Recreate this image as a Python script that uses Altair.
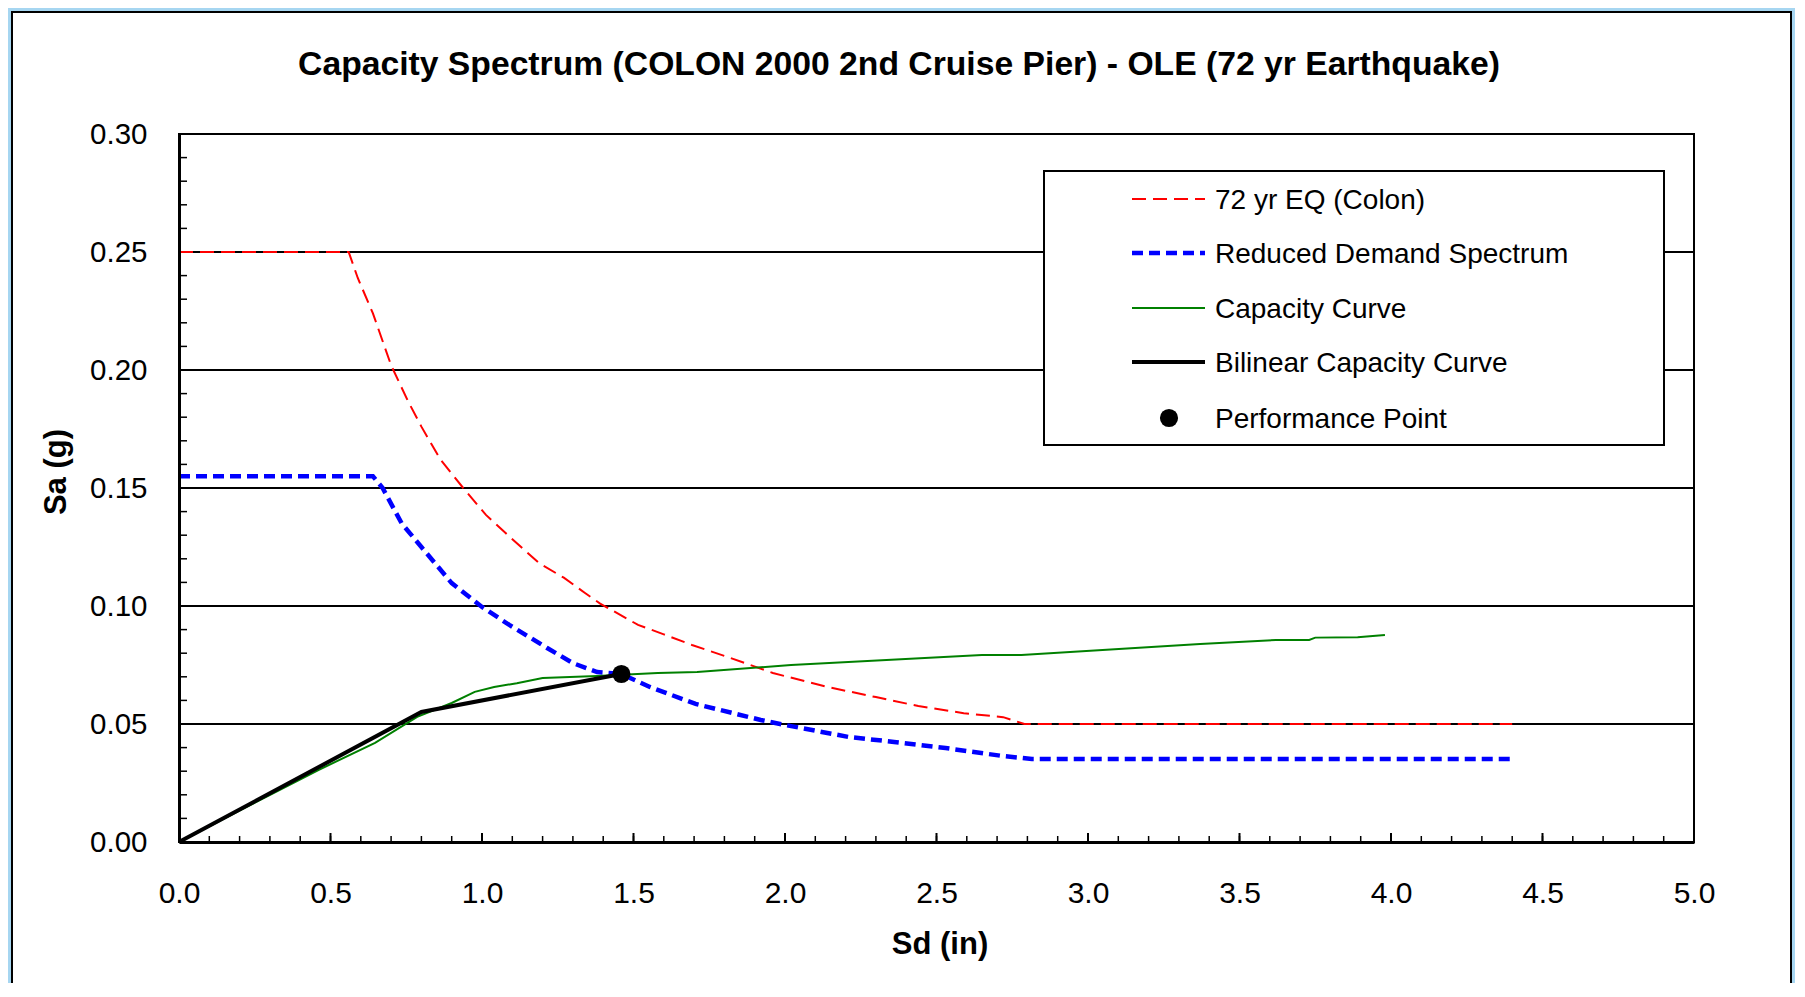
import altair as alt
import pandas as pd

# ---------------- data ----------------
eq_sd = [0.0, 0.56, 0.59, 0.64, 0.70, 0.755, 0.80, 0.863, 0.938, 1.013, 1.077, 1.14, 1.19,
         1.27, 1.34, 1.39, 1.515, 1.60, 1.693, 1.82, 1.96, 2.14, 2.30, 2.44, 2.59, 2.72, 2.79, 4.40]
eq_sa = [0.25, 0.25, 0.239, 0.224, 0.202, 0.187, 0.176, 0.162, 0.150, 0.1386, 0.131, 0.1237, 0.118,
         0.112, 0.1055, 0.101, 0.092, 0.088, 0.0835, 0.078, 0.0716, 0.0657, 0.0614, 0.0576, 0.0546,
         0.0529, 0.050, 0.050]

dem_sd = [0.0, 0.64, 0.672, 0.735, 0.80, 0.90, 1.0, 1.09, 1.215, 1.30, 1.38, 1.46, 1.554, 1.705,
          1.92, 2.0, 2.21, 2.36, 2.53, 2.72, 2.815, 4.41]
dem_sa = [0.155, 0.155, 0.150, 0.135, 0.125, 0.1097, 0.0996, 0.092, 0.0822, 0.0758, 0.072, 0.0712,
          0.0657, 0.0585, 0.0517, 0.0496, 0.0445, 0.0424, 0.0398, 0.0364, 0.0352, 0.0352]

cap_sd = [0.0, 0.19, 0.46, 0.647, 0.786, 0.90, 0.976, 1.04, 1.115, 1.20, 1.38, 1.58, 1.71, 2.02,
          2.65, 2.78, 3.37, 3.62, 3.73, 3.75, 3.89, 3.98]
cap_sa = [0.0, 0.0127, 0.0305, 0.042, 0.053, 0.0589, 0.0636, 0.0657, 0.0673, 0.0695, 0.0703,
          0.0716, 0.072, 0.075, 0.0792, 0.0792, 0.0839, 0.0856, 0.0856, 0.0866, 0.0868, 0.0877]

bil_sd = [0.0, 0.80, 1.46]
bil_sa = [0.0, 0.0551, 0.0712]

pp_sd = [1.46]
pp_sa = [0.0712]

x_ticks = [0.0, 0.5, 1.0, 1.5, 2.0, 2.5, 3.0, 3.5, 4.0, 4.5, 5.0]
y_ticks = [0.00, 0.05, 0.10, 0.15, 0.20, 0.25, 0.30]
x_minor = [round(i * 0.1, 1) for i in range(1, 50)]
y_minor = [round(i * 0.01, 2) for i in range(1, 30)]

legend_labels = ["72 yr EQ (Colon)", "Reduced Demand Spectrum", "Capacity Curve",
                 "Bilinear Capacity Curve", "Performance Point"]
title_text = "Capacity Spectrum (COLON 2000 2nd Cruise Pier) - OLE (72 yr Earthquake)"
x_title = "Sd (in)"
y_title = "Sa (g)"

# ---------------- layout ----------------
W, H = 1515, 708
FONT = "Liberation Sans"
PAD = {"left": 171, "top": 126, "right": 101, "bottom": 141}

xs = alt.Scale(domain=[0, 5], nice=False, zero=False)
ys = alt.Scale(domain=[0, 0.30], nice=False, zero=False)

x_axis = alt.Axis(values=x_ticks, format=".1f", title=None, grid=False, ticks=False, tickSize=0,
                  labelFont=FONT, labelFontSize=30, labelColor="black", labelPadding=36,
                  domainColor="black", domainWidth=3, zindex=1, labelFlush=False)
y_axis = alt.Axis(values=y_ticks, format=".2f", title=None, grid=False, ticks=False, tickSize=0,
                  labelFont=FONT, labelFontSize=29.5, labelColor="black", labelPadding=32,
                  domainColor="black", domainWidth=3, zindex=1, labelFlush=False)


def X(field):
    return alt.X(field, type="quantitative", scale=xs, axis=x_axis)


def Y(field):
    return alt.Y(field, type="quantitative", scale=ys, axis=y_axis)


one = pd.DataFrame({"k": [0]})

# white panel with black border (blue page frame around it)
panel = alt.Chart(one).mark_rect(fill="white", stroke="black", strokeWidth=2).encode(
    x=alt.value(-167), x2=alt.value(1612), y=alt.value(-122), y2=alt.value(900))

# horizontal gridlines
grid_df = pd.DataFrame({"sa": y_ticks[1:-1]})
grid = alt.Chart(grid_df).mark_rule(color="black", strokeWidth=2).encode(
    y=Y("sa"), x=alt.value(0), x2=alt.value(W))

# inward minor ticks
ymin_df = pd.DataFrame({"sa": y_minor})
ytick = alt.Chart(ymin_df).mark_rule(color="black", strokeWidth=1.5).encode(
    y=Y("sa"), x=alt.value(0), x2=alt.value(8))
xmin_df = pd.DataFrame({"sd": x_minor})
xtick = alt.Chart(xmin_df).mark_rule(color="black", strokeWidth=1.5).encode(
    x=X("sd"), y=alt.value(H), y2=alt.value(H - 6))
xmaj_df = pd.DataFrame({"sd": x_ticks[1:-1]})
xtick_major = alt.Chart(xmaj_df).mark_rule(color="black", strokeWidth=2).encode(
    x=X("sd"), y=alt.value(H), y2=alt.value(H - 9))

# plot frame
frame = alt.Chart(one).mark_rect(fill=None, stroke="black", strokeWidth=2).encode(
    x=alt.value(0), x2=alt.value(W), y=alt.value(0), y2=alt.value(H))


def line_df(sd, sa):
    return pd.DataFrame({"sd": sd, "sa": sa, "o": list(range(len(sd)))})


red = alt.Chart(line_df(eq_sd, eq_sa)).mark_line(
    color="#ff0000", strokeWidth=2, strokeDash=[14, 7]).encode(
    x=X("sd"), y=Y("sa"), order="o:Q")
blue = alt.Chart(line_df(dem_sd, dem_sa)).mark_line(
    color="#0000ff", strokeWidth=4.5, strokeDash=[11, 6]).encode(
    x=X("sd"), y=Y("sa"), order="o:Q")
green = alt.Chart(line_df(cap_sd, cap_sa)).mark_line(
    color="#008000", strokeWidth=2).encode(
    x=X("sd"), y=Y("sa"), order="o:Q")
black = alt.Chart(line_df(bil_sd, bil_sa)).mark_line(
    color="black", strokeWidth=4).encode(
    x=X("sd"), y=Y("sa"), order="o:Q")
pp = alt.Chart(pd.DataFrame({"sd": pp_sd, "sa": pp_sa})).mark_point(
    filled=True, color="black", size=330, opacity=1, shape="circle").encode(
    x=X("sd"), y=Y("sa"))

# legend (manual)
LX0, LX1, LY0, LY1 = 865, 1485, 37, 311
ly = [65, 119, 174, 228, 284]
leg_box = alt.Chart(one).mark_rect(fill="white", stroke="black", strokeWidth=2).encode(
    x=alt.value(LX0), x2=alt.value(LX1), y=alt.value(LY0), y2=alt.value(LY1))
s0, s1 = 953, 1026
leg_red = alt.Chart(one).mark_rule(color="#ff0000", strokeWidth=2, strokeDash=[14, 7]).encode(
    x=alt.value(s0), x2=alt.value(s1), y=alt.value(ly[0]))
leg_blue = alt.Chart(one).mark_rule(color="#0000ff", strokeWidth=4.5, strokeDash=[11, 6]).encode(
    x=alt.value(s0), x2=alt.value(s1), y=alt.value(ly[1]))
leg_green = alt.Chart(one).mark_rule(color="#008000", strokeWidth=2).encode(
    x=alt.value(s0), x2=alt.value(s1), y=alt.value(ly[2]))
leg_black = alt.Chart(one).mark_rule(color="black", strokeWidth=4).encode(
    x=alt.value(s0), x2=alt.value(s1), y=alt.value(ly[3]))
leg_pt = alt.Chart(one).mark_point(filled=True, color="black", size=330, opacity=1,
                                   shape="circle").encode(
    x=alt.value(990), y=alt.value(ly[4]))
leg_df = pd.DataFrame({"label": legend_labels, "py": [v + 10 for v in ly]})
leg_text = alt.Chart(leg_df).mark_text(
    font=FONT, fontSize=28, color="black", align="left", baseline="alphabetic").encode(
    text="label:N", x=alt.value(1036), y=alt.Y("py:Q", scale=None))

# titles
t_main = alt.Chart(pd.DataFrame({"t": [title_text]})).mark_text(
    font=FONT, fontSize=33.7, fontWeight="bold", color="black", align="center",
    baseline="alphabetic").encode(text="t:N", x=alt.value(720), y=alt.value(-59))
t_x = alt.Chart(pd.DataFrame({"t": [x_title]})).mark_text(
    font=FONT, fontSize=31, fontWeight="bold", color="black", align="center",
    baseline="alphabetic").encode(text="t:N", x=alt.value(761), y=alt.value(820))
t_y = alt.Chart(pd.DataFrame({"t": [y_title]})).mark_text(
    font=FONT, fontSize=31, fontWeight="bold", color="black", align="center",
    baseline="alphabetic", angle=270).encode(text="t:N", x=alt.value(-113), y=alt.value(338))

chart = alt.layer(
    panel, grid, ytick, xtick, xtick_major, frame,
    red, blue, green, black, pp,
    leg_box, leg_red, leg_blue, leg_green, leg_black, leg_pt, leg_text,
    t_main, t_x, t_y,
).properties(
    width=W, height=H,
    autosize=alt.AutoSizeParams(type="none"),
    padding=PAD,
    background="#a6d6f1",
).configure_view(stroke=None)

chart.save("out.html", embed_options={"renderer": "svg", "actions": False})
